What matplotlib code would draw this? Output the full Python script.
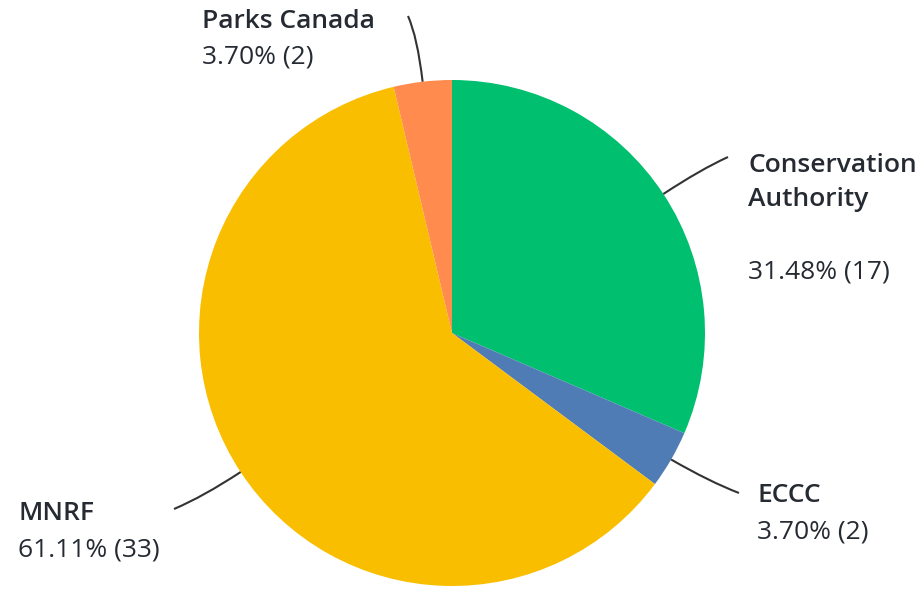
import numpy as np
import matplotlib.pyplot as plt
from matplotlib.path import Path
from matplotlib.patches import PathPatch

labels = ['Conservation\nAuthority', 'ECCC', 'MNRF', 'Parks Canada']
counts = [17, 2, 33, 2]
colors = ['#00BF6F', '#507CB6', '#F9BE00', '#FF8B4F']

# label placement (pixel coords, y from top): text left x, first line y, value line y, connector end
label_pos = [(748, 165, 272, (728, 157)),
             (757, 495, 532, (739, 493)),
             (18, 514, 550, (174, 509)),
             (202, 21, 57, (408, 16))]

W, H = 922, 591
cx, cy, r = 452, 333, 253

fig = plt.figure(figsize=(W / 100, H / 100), dpi=100)
ax = fig.add_axes([0, 0, 1, 1])

ax.pie(counts, colors=colors, startangle=90, counterclock=False,
       center=(cx, H - cy), radius=r, frame=True,
       wedgeprops=dict(linewidth=0))
ax.set_xlim(0, W)
ax.set_ylim(0, H)
ax.set_aspect('equal')
ax.axis('off')

total = sum(counts)
text_color = '#262B33'
angle = 90.0
for lab, n, (tx, ty1, ty2, end) in zip(labels, counts, label_pos):
    sweep = 360.0 * n / total
    mid = np.radians(angle - sweep / 2)
    angle -= sweep
    start = (cx + r * np.cos(mid), H - cy + r * np.sin(mid))
    ctrl = (cx + (r + 45) * np.cos(mid), H - cy + (r + 45) * np.sin(mid))
    stop = (end[0], H - end[1])
    path = Path([start, ctrl, stop], [Path.MOVETO, Path.CURVE3, Path.CURVE3])
    ax.add_patch(PathPatch(path, fill=False, edgecolor='#333333', linewidth=1.5))

    name_lines = lab.split('\n')
    for i, line in enumerate(name_lines):
        ax.text(tx, H - (ty1 + 35 * i), line, fontsize=19, fontweight='semibold',
                family='Open Sans', color=text_color, va='center', ha='left')
    ax.text(tx, H - ty2, f'{100 * n / total:.2f}% ({n})', fontsize=19,
            family='Open Sans', color=text_color, va='center', ha='left')

fig.savefig('out.png', dpi=100)
